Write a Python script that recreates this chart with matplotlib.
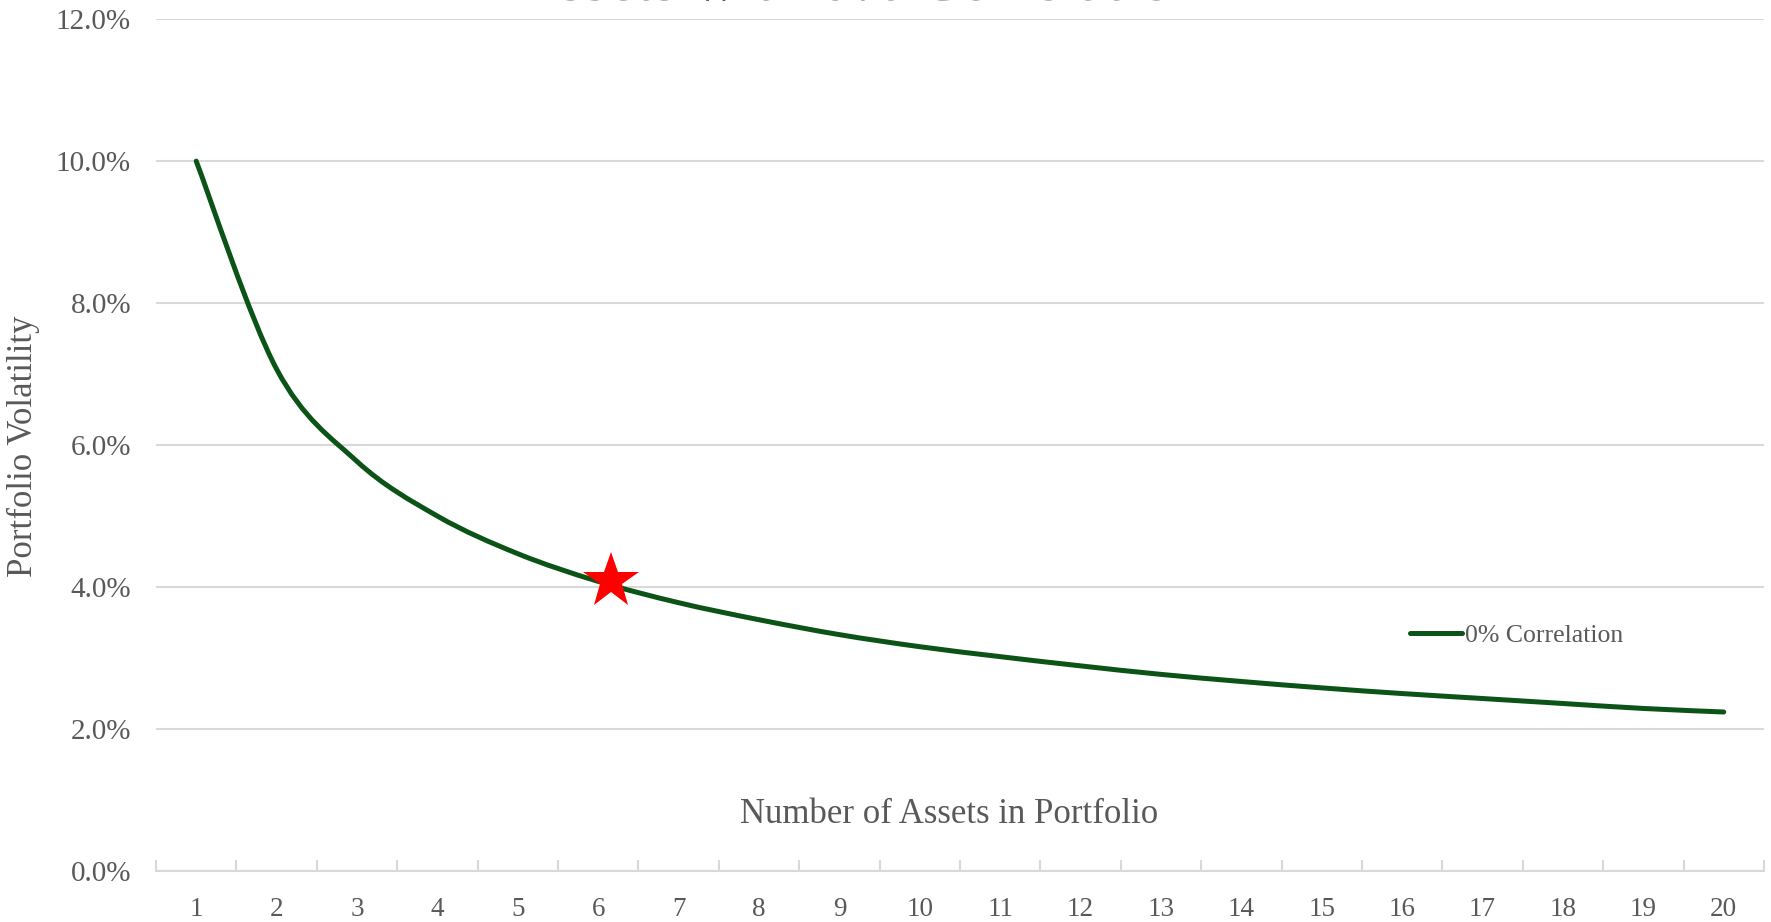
import numpy as np
import matplotlib
matplotlib.use("Agg")
import matplotlib.pyplot as plt
from matplotlib.path import Path
from matplotlib.patches import PathPatch
from matplotlib.lines import Line2D
from matplotlib.ticker import FuncFormatter, FixedLocator

# Data: portfolio volatility (%) by number of equally weighted, uncorrelated assets
assets = list(range(1, 21))
volatility = [10.00, 7.07, 5.77, 5.00, 4.47, 4.08, 3.78, 3.54, 3.33, 3.16,
              3.02, 2.89, 2.77, 2.67, 2.58, 2.50, 2.43, 2.36, 2.29, 2.24]
highlight_x = 6.16
highlight_y = 4.09
series_label = "0% Correlation"
title_text = "Assets with 0% Correlation"
x_label = "Number of Assets in Portfolio"
y_label = "Portfolio Volatility"
y_ticks = [0, 2, 4, 6, 8, 10, 12]

GREEN = "#0b5316"
TEXT = "#595959"
GRID = "#d9d9d9"
FONT = "Liberation Serif"

fig = plt.figure(figsize=(17.71, 9.22), dpi=100)
ax = fig.add_axes([0.0881, 0.0553, 0.9079, 0.9239])

ax.set_xlim(0.5, 20.5)
ax.set_ylim(0, 12)

# Smoothed line: Catmull-Rom segments expressed as cubic Bezier curves
x = np.array(assets, dtype=float)
y = np.array(volatility, dtype=float)
xe = np.concatenate([[x[0]], x, [x[-1]]])
ye = np.concatenate([[y[0]], y, [y[-1]]])
verts = [(x[0], y[0])]
codes = [Path.MOVETO]
t = 1.0 / 6.0
for i in range(1, len(x)):
    p0 = np.array([xe[i - 1], ye[i - 1]])
    p1 = np.array([xe[i], ye[i]])
    p2 = np.array([xe[i + 1], ye[i + 1]])
    p3 = np.array([xe[i + 2], ye[i + 2]])
    c1 = p1 + (p2 - p0) * t
    c2 = p2 - (p3 - p1) * t
    verts += [tuple(c1), tuple(c2), tuple(p2)]
    codes += [Path.CURVE4] * 3
ax.add_patch(PathPatch(Path(verts, codes), facecolor="none", edgecolor=GREEN,
                       linewidth=3.6, capstyle="round", joinstyle="round", zorder=3))

# Highlighted point
ax.plot([highlight_x], [highlight_y], marker="*", markersize=42, color="#ff0000",
        markeredgewidth=0, linestyle="none", zorder=4)

# Axes styling
for s in ["top", "right", "left"]:
    ax.spines[s].set_visible(False)
ax.spines["bottom"].set_color(GRID)
ax.spines["bottom"].set_linewidth(1.5)

ax.yaxis.set_major_locator(FixedLocator(y_ticks))
ax.yaxis.set_major_formatter(FuncFormatter(lambda v, p: f"{v:.1f}%"))
ax.grid(axis="y", color=GRID, linewidth=1.5)
ax.set_axisbelow(True)
ax.tick_params(axis="y", length=0, pad=18, labelsize=21, labelcolor=TEXT)

# Category boundaries carry the tick marks; labels sit at category centres
ax.set_xticks([i + 0.5 for i in range(0, 21)])
ax.set_xticklabels([])
ax.tick_params(axis="x", which="major", direction="in", length=8, width=1.5, color=GRID)
ax.set_xticks(assets, minor=True)
ax.set_xticklabels([str(a) for a in assets], minor=True)
ax.tick_params(axis="x", which="minor", length=0, pad=19, labelsize=19.5, labelcolor=TEXT)

for lbl in ax.get_xticklabels(minor=True) + ax.get_yticklabels():
    lbl.set_fontfamily(FONT)

ax.text(0.4935, 0.066, x_label, transform=ax.transAxes, ha="center", va="center",
        fontsize=25, color=TEXT, fontfamily=FONT)
fig.text(0.0135, 0.516, y_label, rotation=90, ha="center", va="center",
         fontsize=25, color=TEXT, fontfamily=FONT)

# Title sits almost entirely above the canvas edge
fig.text(0.485, 1.0005, title_text, ha="center", va="baseline", fontsize=45,
         color=TEXT, fontfamily=FONT)

# Legend
leg_handle = Line2D([0], [0], color=GREEN, linewidth=3.6, solid_capstyle="round")
leg = ax.legend([leg_handle], [series_label], loc="center left",
                bbox_to_anchor=(0.780, 0.277), frameon=False, handlelength=2.0,
                handletextpad=0.15, borderpad=0, borderaxespad=0,
                prop={"family": FONT, "size": 18.5})
for t_ in leg.get_texts():
    t_.set_color(TEXT)

fig.savefig("out.png", dpi=100, facecolor="white")
